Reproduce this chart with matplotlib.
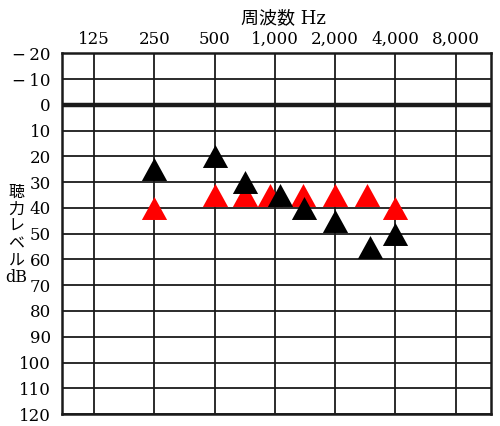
import numpy as np
import matplotlib
matplotlib.use('Agg')
import matplotlib.pyplot as plt

# --- Data ---
FREQ_TICKS = [125, 250, 500, 1000, 2000, 4000, 8000]
FREQ_LABELS = ['125', '250', '500', '1,000', '2,000', '4,000', '8,000']
LEVEL_TICKS = list(range(-20, 130, 10))

black_freqs = [250, 500, 710, 1060, 1400, 2000, 3000, 4000]
black_levels = [25, 20, 30, 35, 40, 45, 55, 50]

red_freqs = [250, 500, 710, 944, 1375, 2000, 2880, 4000]
red_levels = [40, 35, 35, 35, 35, 35, 35, 40]

SERIF = ['DejaVu Serif', 'Noto Sans CJK JP']

# slightly wide triangle, like the printed symbols
TRI = [(-1.1, -1.0), (1.1, -1.0), (0.0, 1.0), (-1.1, -1.0)]

fig = plt.figure(figsize=(5.0, 4.26), dpi=100)
ax = fig.add_axes([0.124, 0.028, 0.858, 0.847])

ax.set_xscale('log')
ax.set_xlim(86.6, 12000)
ax.set_ylim(120, -20)

# grid
for f in FREQ_TICKS:
    ax.axvline(f, color='#1a1a1a', lw=1.3, zorder=1)
for lv in LEVEL_TICKS:
    ax.axhline(lv, color='#1a1a1a', lw=3.2 if lv == 0 else 1.3, zorder=1)

ax.scatter(red_freqs, red_levels, marker=TRI, s=330, color='#ff0000',
           linewidths=0, zorder=3)
ax.scatter(black_freqs, black_levels, marker=TRI, s=330, color='black',
           linewidths=0, zorder=4)

# ticks: frequencies on top, levels on the left
ax.xaxis.tick_top()
ax.set_xticks(FREQ_TICKS)
ax.set_xticklabels(FREQ_LABELS, family=SERIF, fontsize=12)
ax.xaxis.set_minor_locator(matplotlib.ticker.NullLocator())
ax.set_yticks(LEVEL_TICKS)
ax.set_yticklabels([('\u2212\u2009' + str(-v)) if v < 0 else str(v) for v in LEVEL_TICKS],
                   family=SERIF, fontsize=12)
ax.tick_params(axis='x', length=0, pad=4)
ax.tick_params(axis='y', length=0, pad=8)

for s in ax.spines.values():
    s.set_linewidth(1.8)
    s.set_color('#1a1a1a')

fig.text(0.566, 0.958, '周波数 Hz', family=SERIF, fontsize=13,
         ha='center', va='center')
fig.text(0.033, 0.448, '聴\n力\nレ\nベ\nル\ndB', family=SERIF, fontsize=11.5,
         ha='center', va='center', linespacing=1.0)

fig.savefig('out.png', dpi=100, facecolor='white')
